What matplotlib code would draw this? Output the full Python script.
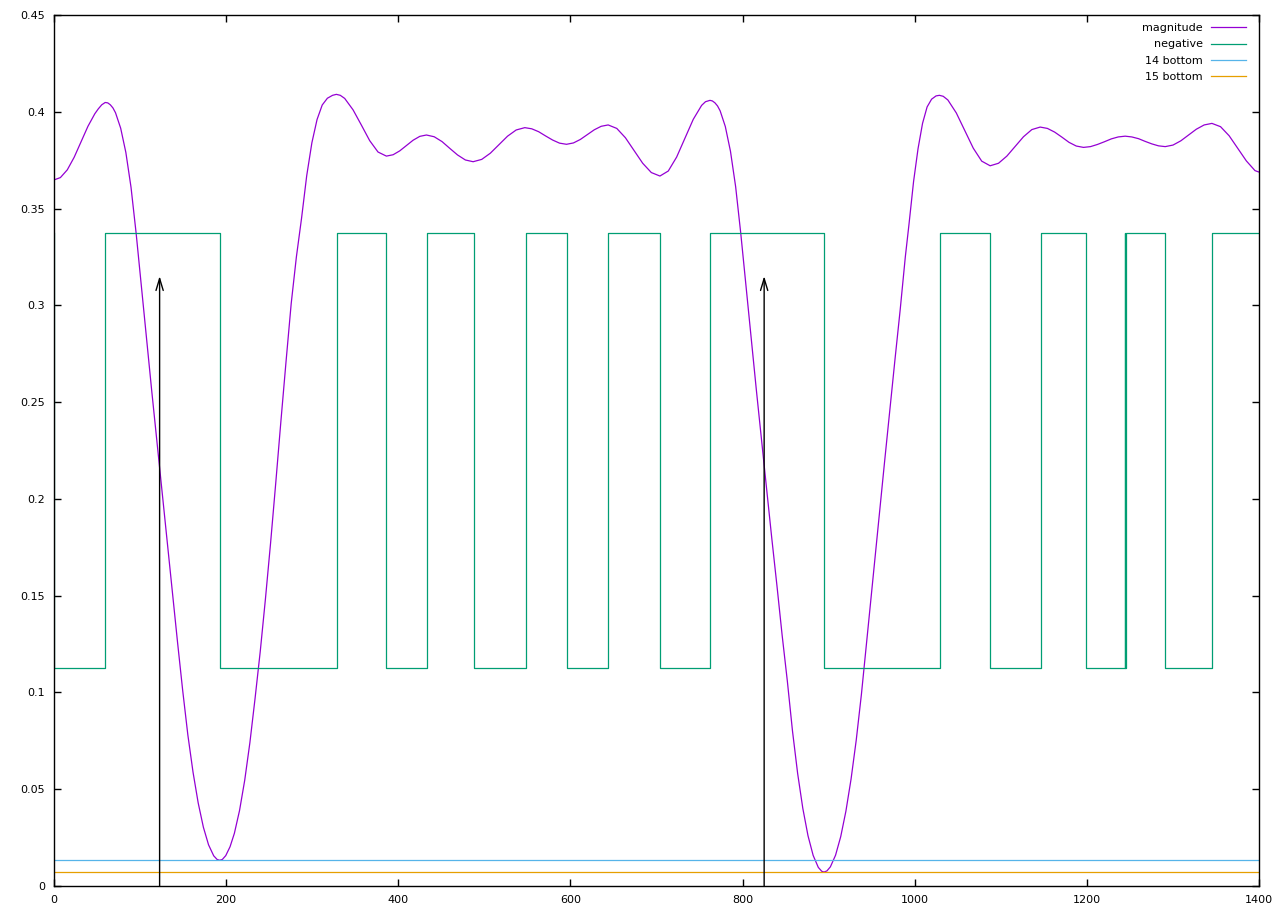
import matplotlib
matplotlib.use("Agg")
import matplotlib.pyplot as plt

# magnitude curve
mag_x = [0, 8, 16, 24, 32, 40, 48, 52, 56, 60,
         63, 66, 69, 72, 78, 84, 90, 96, 102, 108, 114, 120, 126, 132, 138, 144, 150,
         156, 162, 168, 174, 180, 186, 190, 192.9,
         196, 200, 205, 210, 216, 222, 228, 234, 240, 246, 252, 258, 264, 270,
         276, 282, 288, 294, 300, 306, 312, 318, 324, 328.4,
         333, 338.1, 347.8, 357.5, 367.1, 376.8, 386.5,
         394.3, 402.0, 409.8, 417.5, 425.3, 433,
         442.0, 451.1, 460.1, 469.1, 478.2, 487.2,
         497.2, 507.2, 517.2, 527.2, 537.2, 547.2,
         555.3, 563.3, 571.4, 579.5, 587.5, 595.6,
         603.7, 611.7, 619.8, 627.9, 635.9, 644,
         654.0, 664.0, 674.1, 684.1, 694.1, 704.1,
         713.8, 723.5, 733.2, 742.8, 752.5, 757, 762.2,
         765, 768, 771, 774, 780, 786, 792, 798, 804, 810, 816, 822, 828, 834, 840, 846,
         852, 858, 864, 870, 876, 882, 888, 892, 894.6,
         898, 902, 908, 914, 920, 926, 932, 938, 941.1, 947, 953, 959, 965,
         971, 977, 983, 989, 993.3, 998.6, 1003.8, 1009, 1014.3, 1019.5,
         1024.7, 1028.6,
         1033, 1038.4, 1048.2, 1058.1, 1067.9, 1077.7, 1087.5,
         1097.2, 1106.9, 1116.6, 1126.2, 1135.9, 1145.6,
         1154.0, 1162.4, 1170.8, 1179.1, 1187.5, 1195.9,
         1204.0, 1212.0, 1220.1, 1228.2, 1236.2, 1244.3,
         1252.0, 1259.8, 1267.5, 1275.3, 1283.0, 1290.8,
         1299.8, 1308.9, 1317.9, 1326.9, 1336.0, 1345,
         1355, 1365, 1375, 1385, 1395, 1400]
mag_y = [0.3647, 0.3660, 0.3700, 0.3765, 0.3845, 0.3925, 0.3990, 0.4015, 0.4036, 0.4048,
         0.4046, 0.4036, 0.4020, 0.3995, 0.3915, 0.3790, 0.3610, 0.3370, 0.3100,
         0.2830, 0.2560, 0.2300, 0.2040, 0.1780, 0.1520, 0.1260, 0.1010,
         0.0780, 0.0588, 0.0429, 0.0304, 0.0213, 0.0156, 0.0137, 0.0133,
         0.0137, 0.0157, 0.0203, 0.0272, 0.0390, 0.0546, 0.0740, 0.0968, 0.1210,
         0.1480, 0.1770, 0.2080, 0.2400, 0.2710,
         0.3010, 0.3250, 0.3450, 0.3670, 0.3840, 0.3960, 0.4035, 0.4070, 0.4085, 0.4090,
         0.4085, 0.4069, 0.4010, 0.3931, 0.3851, 0.3792, 0.3771,
         0.3778, 0.3798, 0.3826, 0.3853, 0.3873, 0.3880,
         0.3871, 0.3846, 0.3811, 0.3777, 0.3751, 0.3742,
         0.3754, 0.3786, 0.3830, 0.3874, 0.3906, 0.3918,
         0.3912, 0.3897, 0.3875, 0.3854, 0.3838, 0.3832,
         0.3839, 0.3857, 0.3882, 0.3907, 0.3925, 0.3932,
         0.3914, 0.3866, 0.3800, 0.3734, 0.3686, 0.3668,
         0.3694, 0.3766, 0.3864, 0.3961, 0.4033, 0.4052, 0.4059,
         0.4056, 0.4046, 0.4030, 0.4005, 0.3924, 0.3796, 0.3613, 0.3370, 0.3100,
         0.2830, 0.2565, 0.2305, 0.2050, 0.1795, 0.1550, 0.1295,
         0.1060, 0.0801, 0.0581, 0.0401, 0.0260, 0.0158, 0.0096, 0.0076, 0.0072,
         0.0078, 0.0099, 0.0159, 0.0255, 0.0386, 0.0552, 0.0753, 0.0989, 0.1126,
         0.1390, 0.1660, 0.1930, 0.2195,
         0.2460, 0.2720, 0.2975, 0.3250, 0.3420, 0.3640, 0.3810, 0.3940, 0.4025,
         0.4065, 0.4082, 0.4085,
         0.4080, 0.4061, 0.3994, 0.3903, 0.3812, 0.3745, 0.3721,
         0.3734, 0.3771, 0.3821, 0.3871, 0.3908, 0.3921,
         0.3914, 0.3895, 0.3869, 0.3842, 0.3823, 0.3816,
         0.3820, 0.3831, 0.3845, 0.3860, 0.3870, 0.3874,
         0.3870, 0.3861, 0.3847, 0.3834, 0.3824, 0.3820,
         0.3828, 0.3850, 0.3880, 0.3910, 0.3932, 0.3940,
         0.3923, 0.3876, 0.3811, 0.3746, 0.3696, 0.3688]

# "negative" square wave (high while magnitude falls)
neg_x = [0, 1, 60, 192.9, 328.6, 385.7, 433.4, 488, 548.4, 596, 643.7, 704,
         762, 894.6, 1029.4, 1087.5, 1146.7, 1199, 1243.6, 1244.6, 1245.6,
         1290, 1345.4, 1400]
neg_y = [0.3375, 0.1125, 0.3375, 0.1125, 0.3375, 0.1125, 0.3375, 0.1125,
         0.3375, 0.1125, 0.3375, 0.1125, 0.3375, 0.1125, 0.3375, 0.1125,
         0.3375, 0.1125, 0.3375, 0.1125, 0.3375, 0.1125, 0.3375, 0.3375]

bottom14 = 0.0134
bottom15 = 0.0072

arrow_x = [123.2, 825.1]
arrow_top = 0.3151

xticks = [0, 200, 400, 600, 800, 1000, 1200, 1400]
yticks = [0, 0.05, 0.1, 0.15, 0.2, 0.25, 0.3, 0.35, 0.4, 0.45]
ytick_labels = ["0", "0.05", "0.1", "0.15", "0.2", "0.25", "0.3", "0.35", "0.4", "0.45"]

plt.rcParams['font.family'] = ['DejaVu Sans']

fig = plt.figure(figsize=(12.8, 9.18), dpi=100)
ax = fig.add_axes([53.5 / 1280, 32 / 918, (1259.3 - 53.5) / 1280, (886 - 15) / 918])

ax.plot(mag_x, mag_y, color='#9400d3', lw=0.9, label='magnitude')
ax.plot(neg_x, neg_y, color='#009e73', lw=0.9, drawstyle='steps-post', label='negative')
ax.axhline(bottom14, color='#56b4e9', lw=0.9, label='14 bottom')
ax.axhline(bottom15, color='#e69f00', lw=0.9, label='15 bottom')

for ax_x in arrow_x:
    ax.annotate('', xy=(ax_x, arrow_top), xytext=(ax_x, 0),
                arrowprops=dict(arrowstyle='->,head_length=8.6,head_width=2.6',
                                color='black', lw=1.0, shrinkA=0, shrinkB=0,
                                mutation_scale=1))

ax.set_xlim(0, 1400)
ax.set_ylim(0, 0.45)
ax.set_xticks(xticks)
ax.set_xticklabels([str(t) for t in xticks])
ax.set_yticks(yticks)
ax.set_yticklabels(ytick_labels)
ax.tick_params(axis='both', direction='in', length=5, width=1, top=True, right=True,
               labelsize=8, colors='black')
ax.tick_params(axis='x', pad=6.5)
ax.tick_params(axis='y', pad=6)
for sp in ax.spines.values():
    sp.set_linewidth(1)
    sp.set_color('black')

ax.legend(loc='upper right', bbox_to_anchor=((1246 - 53.5) / 1205.8, (886 - 23) / 871),
          frameon=False, fontsize=8, markerfirst=False, handlelength=3.15,
          handletextpad=0.72, labelspacing=0.58, borderpad=0, borderaxespad=0)

fig.savefig('out.png', dpi=100)
